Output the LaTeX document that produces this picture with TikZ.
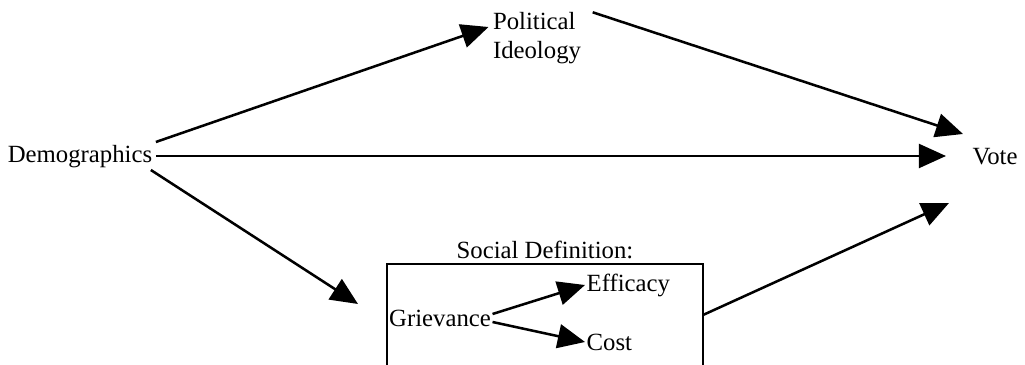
\documentclass[tikz,border=0pt]{standalone}
\usepackage{fontspec}
\setmainfont{Liberation Serif}
\usetikzlibrary{arrows.meta}

\begin{document}
\begin{tikzpicture}[x=0.025cm,y=-0.025cm,
        every node/.style={font=\fontsize{17.6}{21}\selectfont,inner sep=1pt},
        pfeil/.style={line width=1.8pt,-{Triangle[length=0.68cm,width=0.6cm]}}]
        \useasboundingbox (0,0) rectangle (1025,365);
        %Knoten;
        \node (demo) at (80,157) {Demographics};
        \node (vote) at (995,157) {Vote};
        \node[align=left] (ideo) at (537,38) {Political\\Ideology};
        \node (soc) at (545,250) {Social Definition:};
        \node (griev) at (440,318) {Grievance};
        \node[anchor=west] (eff) at (585,285) {Efficacy};
        \node[anchor=west] (cost) at (585,342) {Cost};
        %Kasten (unten offen)
        \draw [line width=1.4pt] (387,366) |- (703,264) -- (703,366);
        \coordinate (boxr) at (703,315);
        \coordinate (boxl) at (358,304);
        %Pfeile
        \draw [pfeil] (demo.east)++(2,-15) -- ([xshift=-2pt]ideo.north west|-0,27);
        \draw [pfeil] (ideo.north east)++(10,2) -- (963,134);
        \draw [pfeil] (demo.east)++(2,-1) -- (946,156);
        \draw [pfeil] (demo.east)++(-3,13) -- (boxl);
        \draw [pfeil] (boxr) -- (949,203);
        \draw [pfeil] (griev.east)++(0,-4) -- (eff.west);
        \draw [pfeil] (griev.east)++(0,4) -- (cost.west);
\end{tikzpicture}
\end{document}
